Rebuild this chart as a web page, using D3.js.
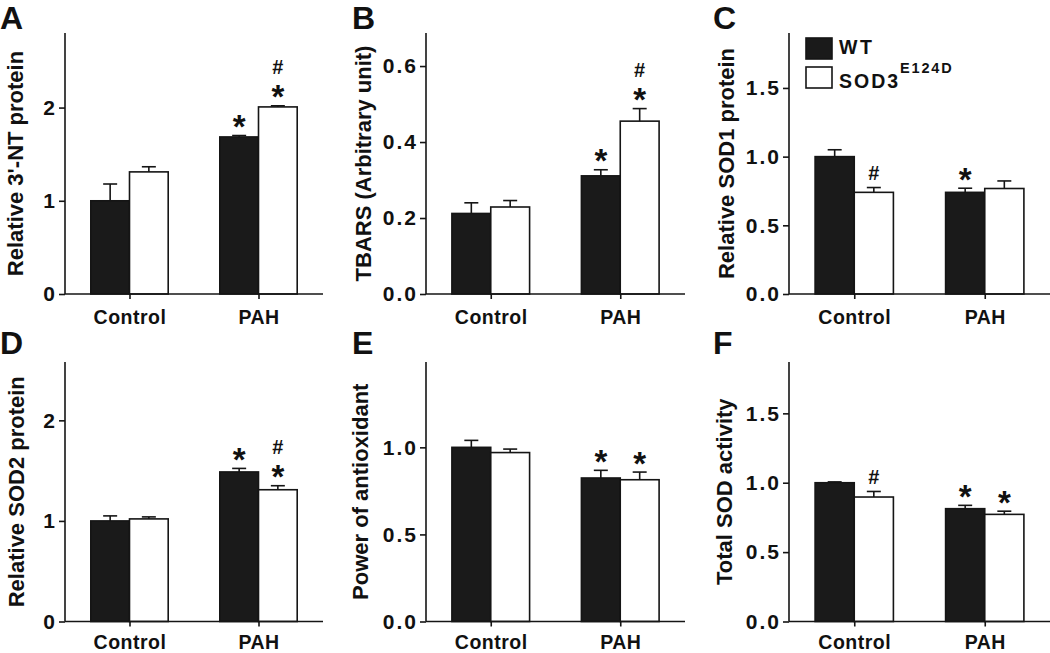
<!DOCTYPE html>
<html><head><meta charset="utf-8">
<script src="https://cdn.jsdelivr.net/npm/d3@7"></script>
<style>
html,body{margin:0;padding:0;background:#fff;}
svg{display:block;}
text{font-family:"Liberation Sans",Arial,Helvetica,sans-serif;font-weight:bold;fill:#111;}
</style></head>
<body>
<svg id="chart" width="1050" height="653"></svg>
<script>
// ---------- data ----------
const categories = ["Control", "PAH"];
const seriesNames = ["WT", "SOD3"];
const panelLetters = ["A", "B", "C", "D", "E", "F"];
const yLabels = ["Relative 3'-NT protein", "TBARS (Arbitrary unit)", "Relative SOD1 protein",
                 "Relative SOD2 protein", "Power of antioxidant", "Total SOD activity"];
const yMaxes = [2.8, 0.687, 1.9, 2.58, 1.49, 1.87];
const yTicksA = [0, 1, 2];
const yTicksB = [0, 0.2, 0.4, 0.6];
const yTicksC = [0, 0.5, 1.0, 1.5];
const yTicksD = [0, 1, 2];
const yTicksE = [0, 0.5, 1.0];
const yTicksF = [0, 0.5, 1.0, 1.5];
const tickFormats = ["d", ".1f", ".1f", "d", ".1f", ".1f"];

// means and SEM (WT, SOD3E124D) per category
const wtA = [1.0, 1.685],   wtErrA = [0.18, 0.015];
const sodA = [1.31, 2.007], sodErrA = [0.055, 0.012];
const wtB = [0.212, 0.311], wtErrB = [0.028, 0.016];
const sodB = [0.229, 0.455], sodErrB = [0.017, 0.033];
const wtC = [1.0, 0.74],    wtErrC = [0.05, 0.03];
const sodC = [0.74, 0.768], sodErrC = [0.035, 0.055];
const wtD = [1.0, 1.487],   wtErrD = [0.05, 0.035];
const sodD = [1.02, 1.31],  sodErrD = [0.02, 0.04];
const wtE = [1.0, 0.824],   wtErrE = [0.04, 0.044];
const sodE = [0.97, 0.814], sodErrE = [0.02, 0.044];
const wtF = [1.0, 0.813],   wtErrF = [0.006, 0.024];
const sodF = [0.897, 0.772], sodErrF = [0.04, 0.023];

// significance marks: [category index, series index, lines top->bottom]
const marksA = [[1, 0, ["*"]], [1, 1, ["#", "*"]]];
const marksB = [[1, 0, ["*"]], [1, 1, ["#", "*"]]];
const marksC = [[0, 1, ["#"]], [1, 0, ["*"]]];
const marksD = [[1, 0, ["*"]], [1, 1, ["#", "*"]]];
const marksE = [[1, 0, ["*"]], [1, 1, ["*"]]];
const marksF = [[0, 1, ["#"]], [1, 0, ["*"]], [1, 1, ["*"]]];

const legendLabels = ["WT", "SOD3", "E124D"];

// ---------- layout ----------
const cols = [{l: 65, r: 323, let: 0}, {l: 426, r: 685, let: 352}, {l: 789, r: 1050, let: 713}];
const rows = [{t: 33, b: 294, let: 29, cat: 30}, {t: 362, b: 621.5, let: 354, cat: 27.5}];
const labOffsets = [42, 55, 55, 41, 58, 57];
const starSize = 33, hashSize = 20, markGap = 22.5;

const panels = [
  {ticks: yTicksA, wt: wtA, wtE: wtErrA, sod: sodA, sodE: sodErrA, marks: marksA},
  {ticks: yTicksB, wt: wtB, wtE: wtErrB, sod: sodB, sodE: sodErrB, marks: marksB},
  {ticks: yTicksC, wt: wtC, wtE: wtErrC, sod: sodC, sodE: sodErrC, marks: marksC},
  {ticks: yTicksD, wt: wtD, wtE: wtErrD, sod: sodD, sodE: sodErrD, marks: marksD},
  {ticks: yTicksE, wt: wtE, wtE: wtErrE, sod: sodE, sodE: sodErrE, marks: marksE},
  {ticks: yTicksF, wt: wtF, wtE: wtErrF, sod: sodF, sodE: sodErrF, marks: marksF}
];

const svg = d3.select("#chart");
const ink = "#151515";

panels.forEach((p, i) => {
  const c = cols[i % 3], r = rows[Math.floor(i / 3)];
  const g = svg.append("g");
  const y = d3.scaleLinear().domain([0, yMaxes[i]]).range([r.b, r.t]);
  const x = d3.scalePoint().domain(categories).range([c.l, c.r]).padding(0.5);
  const bw = x.step() * 0.3;
  const xs = d3.scaleBand().domain(seriesNames).range([-bw, bw]);

  const bars = [];
  categories.forEach((cat, ci) => {
    bars.push({cat, ci, s: 0, v: p.wt[ci], e: p.wtE[ci]});
    bars.push({cat, ci, s: 1, v: p.sod[ci], e: p.sodE[ci]});
  });

  // bars
  g.selectAll("rect.bar").data(bars).join("rect")
    .attr("x", d => x(d.cat) + xs(seriesNames[d.s]))
    .attr("y", d => y(d.v))
    .attr("width", xs.bandwidth())
    .attr("height", d => y(0) - y(d.v))
    .attr("fill", d => d.s === 0 ? "#1a1a1a" : "#fff")
    .attr("stroke", ink).attr("stroke-width", 1.6);

  // error bars (upper only)
  const cap = 7;
  bars.forEach(d => {
    const cx = x(d.cat) + xs(seriesNames[d.s]) + xs.bandwidth() / 2;
    g.append("line").attr("x1", cx).attr("x2", cx).attr("y1", y(d.v)).attr("y2", y(d.v + d.e))
      .attr("stroke", ink).attr("stroke-width", 1.6);
    g.append("line").attr("x1", cx - cap).attr("x2", cx + cap).attr("y1", y(d.v + d.e)).attr("y2", y(d.v + d.e))
      .attr("stroke", ink).attr("stroke-width", 1.6);
  });

  // y axis
  const ya = g.append("g").attr("transform", `translate(${c.l},0)`)
    .call(d3.axisLeft(y).tickValues(p.ticks).tickFormat(d3.format(tickFormats[i]))
      .tickSize(6).tickSizeOuter(0).tickPadding(2));
  ya.attr("font-family", null).attr("font-size", null);
  ya.select(".domain").attr("d", `M0,${r.t}V${r.b}`).attr("stroke", ink).attr("stroke-width", 1.6);
  ya.selectAll(".tick line").attr("stroke", ink).attr("stroke-width", 1.6);
  ya.selectAll(".tick text").style("font-size", "21px").attr("letter-spacing", 2).attr("fill", "#111");

  // x axis
  const xa = g.append("g").attr("transform", `translate(0,${r.b})`)
    .call(d3.axisBottom(x).tickSize(5).tickSizeOuter(0));
  xa.attr("font-family", null).attr("font-size", null);
  xa.select(".domain").attr("d", `M${c.l},0H${c.r}`).attr("stroke", ink).attr("stroke-width", 1.6);
  xa.selectAll(".tick line").attr("stroke", ink).attr("stroke-width", 1.6);
  xa.selectAll(".tick text").style("font-size", "19.5px").attr("letter-spacing", 0.5)
    .attr("y", r.cat).attr("dy", null).attr("fill", "#111");

  // y label
  const ly = (r.t + r.b) / 2;
  const lx = c.l - labOffsets[i];
  g.append("text").attr("transform", `translate(${lx},${ly}) rotate(-90)`)
    .attr("text-anchor", "middle").style("font-size", "22px").text(yLabels[i]);

  // panel letter
  g.append("text").attr("x", c.let).attr("y", r.let).style("font-size", "32px").text(panelLetters[i]);

  // significance marks
  p.marks.forEach(([ci, si, lines]) => {
    const b = bars.find(d => d.ci === ci && d.s === si);
    const cx = x(b.cat) + xs(seriesNames[si]) + xs.bandwidth() / 2;
    const top = y(b.v + b.e);
    let center = top - (lines[lines.length - 1] === "*" ? 16.5 : 14.5);
    for (let k = lines.length - 1; k >= 0; k--) {
      const t = lines[k];
      const fs = t === "*" ? starSize : hashSize;
      const base = t === "*" ? center + 0.58 * fs : center + 0.36 * fs;
      g.append("text").attr("x", cx).attr("y", base).attr("text-anchor", "middle")
        .style("font-size", fs + "px").text(t);
      center -= markGap;
    }
  });

  // legend in panel C
  if (i === 2) {
    const lg = g.append("g");
    lg.append("rect").attr("x", 806).attr("y", 38).attr("width", 26).attr("height", 21)
      .attr("fill", "#1a1a1a").attr("stroke", ink).attr("stroke-width", 1.6);
    lg.append("rect").attr("x", 806).attr("y", 67).attr("width", 26).attr("height", 21)
      .attr("fill", "#fff").attr("stroke", ink).attr("stroke-width", 1.6);
    lg.append("text").attr("x", 839).attr("y", 53.5).style("font-size", "19.5px").attr("letter-spacing", 2.5)
      .text(legendLabels[0]);
    const t2 = lg.append("text").attr("x", 839).attr("y", 88).style("font-size", "19.5px").attr("letter-spacing", 2);
    t2.append("tspan").text(legendLabels[1]);
    t2.append("tspan").attr("dy", -15.5).style("font-size", "14.5px").attr("letter-spacing", 1.8).text(legendLabels[2]);
  }
});
</script>
</body></html>
